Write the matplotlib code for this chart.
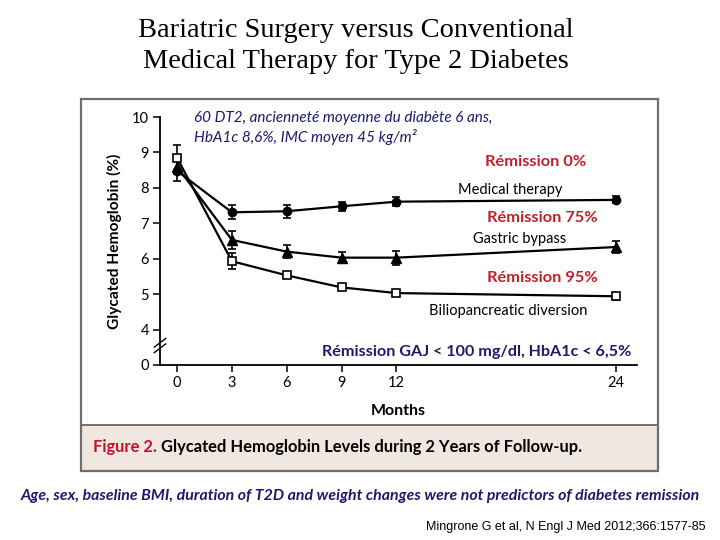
import numpy as np
import matplotlib
matplotlib.use("Agg")
import matplotlib.pyplot as plt
from matplotlib.patches import Rectangle

# ---- data ----
months = [0, 3, 6, 9, 12, 24]
medical = [8.48, 7.31, 7.34, 7.48, 7.61, 7.66]
medical_err = [0.28, 0.20, 0.19, 0.13, 0.13, 0.10]
gastric = [8.60, 6.53, 6.20, 6.03, 6.03, 6.33]
gastric_err = [0.20, 0.25, 0.18, 0.16, 0.20, 0.17]
bpd = [8.85, 5.93, 5.53, 5.19, 5.03, 4.94]
bpd_err = [0.37, 0.23, 0.04, 0.04, 0.04, 0.10]
xticks = [0, 3, 6, 9, 12, 24]
yticks = [0, 4, 5, 6, 7, 8, 9, 10]

NAVY = "#1b1b6b"
RED = "#c0202a"
SANS = ["Lato", "DejaVu Sans"]

fig = plt.figure(figsize=(7.2, 5.4), dpi=100)

def fx(px):
    return px / 720.0

def fy(py):
    return 1 - py / 540.0

# panel frame and caption strip
fig.patches.append(Rectangle((fx(81), fy(471)), fx(658) - fx(81), fy(425) - fy(471),
                             transform=fig.transFigure, facecolor="#efe7e0",
                             edgecolor="none", zorder=0))
fig.patches.append(Rectangle((fx(81), fy(471)), fx(658) - fx(81), fy(99) - fy(471),
                             transform=fig.transFigure, facecolor="none",
                             edgecolor="#6e6e6e", linewidth=1.6, zorder=1))
fig.lines.append(plt.Line2D([fx(81), fx(658)], [fy(425), fy(425)],
                            transform=fig.transFigure, color="#6e6e6e", linewidth=1.4))

ax = fig.add_axes([fx(160), fy(365), fx(637) - fx(160), fy(117) - fy(365)])
ax.set_facecolor("none")


def fwd(y):
    y = np.asarray(y, dtype=float)
    return np.where(y >= 4, y, 3 + y / 4.0)


def inv(t):
    t = np.asarray(t, dtype=float)
    return np.where(t >= 4, t, (t - 3) * 4.0)


ax.set_yscale("function", functions=(fwd, inv))
ax.set_ylim(0, 10)
ax.set_xlim(-0.93, 25.15)

common = dict(color="black", linewidth=1.6, elinewidth=1.2, capsize=3, capthick=1.2)
ax.errorbar(months, medical, yerr=medical_err, marker="o", markersize=6,
            markerfacecolor="black", zorder=4, **common)
ax.errorbar(months, gastric, yerr=gastric_err, marker="^", markersize=6.5,
            markerfacecolor="black", zorder=3, **common)
ax.errorbar(months, bpd, yerr=bpd_err, marker="s", markersize=6,
            markerfacecolor="white", markeredgewidth=1.2, zorder=5, **common)

ax.set_xticks(xticks)
ax.set_yticks(yticks)
ax.set_xticklabels([str(v) for v in xticks], fontfamily=SANS, fontsize=10.5)
ax.set_yticklabels([str(v) for v in yticks], fontfamily=SANS, fontsize=10.5)
ax.yaxis.set_minor_locator(matplotlib.ticker.NullLocator())
ax.tick_params(axis="both", direction="out", length=5, width=1.1, pad=3)
for s in ["top", "right"]:
    ax.spines[s].set_visible(False)
for s in ["left", "bottom"]:
    ax.spines[s].set_linewidth(1.3)

# axis break marks
for dy in (0.0, 0.022):
    ax.plot([-0.012, 0.012], [0.05 + dy, 0.085 + dy], transform=ax.transAxes,
            color="black", linewidth=1.0, clip_on=False)

ax.set_xlabel("Months", fontfamily=SANS, fontsize=11.5, fontweight="bold", labelpad=10)
ax.set_ylabel("Glycated Hemoglobin (%)", fontfamily=SANS, fontsize=11.2,
              fontweight="bold", labelpad=7)

# series labels
fig.text(fx(510), fy(190), "Medical therapy", fontfamily=SANS, fontsize=10.5,
         ha="center", va="center")
fig.text(fx(520), fy(239), "Gastric bypass", fontfamily=SANS, fontsize=10.5,
         ha="center", va="center")
fig.text(fx(508), fy(311), "Biliopancreatic diversion", fontfamily=SANS, fontsize=10.5,
         ha="center", va="center")

fig.text(fx(536), fy(162), "Rémission 0%", fontfamily=SANS, fontsize=11.8,
         fontweight="bold", color=RED, ha="center", va="center")
fig.text(fx(542), fy(218), "Rémission 75%", fontfamily=SANS, fontsize=11.8,
         fontweight="bold", color=RED, ha="center", va="center")
fig.text(fx(542), fy(278), "Rémission 95%", fontfamily=SANS, fontsize=11.8,
         fontweight="bold", color=RED, ha="center", va="center")

fig.text(fx(631), fy(352), "Rémission GAJ < 100 mg/dl, HbA1c < 6,5%", fontfamily=SANS,
         fontsize=11.6, fontweight="bold", color=NAVY, ha="right", va="center")

fig.text(fx(194), fy(118), "60 DT2, ancienneté moyenne du diabète 6 ans,",
         fontfamily=SANS, fontsize=11, fontstyle="italic", color=NAVY,
         ha="left", va="center")
fig.text(fx(194), fy(137), "HbA1c 8,6%, IMC moyen 45 kg/m²",
         fontfamily=SANS, fontsize=11, fontstyle="italic", color=NAVY,
         ha="left", va="center")

# title
fig.text(fx(356), fy(31), "Bariatric Surgery versus Conventional",
         fontfamily=["Liberation Serif", "DejaVu Serif"], fontsize=20.4,
         ha="center", va="center")
fig.text(fx(356), fy(61), "Medical Therapy for Type 2 Diabetes",
         fontfamily=["Liberation Serif", "DejaVu Serif"], fontsize=20.4,
         ha="center", va="center")

# caption
t1 = fig.text(fx(93), fy(447), "Figure 2. ", fontfamily=SANS, fontsize=11.9,
              fontweight="bold", color="#c8102e", ha="left", va="center")
fig.canvas.draw()
bb = t1.get_window_extent()
fig.text(bb.x1 / fig.bbox.width, fy(447),
         "Glycated Hemoglobin Levels during 2 Years of Follow-up.",
         fontfamily=SANS, fontsize=11.9, fontweight="bold", color="black",
         ha="left", va="center")

fig.text(fx(360), fy(496),
         "Age, sex, baseline BMI, duration of T2D and weight changes were not predictors of diabetes remission",
         fontfamily=SANS, fontsize=11.45, fontweight="bold", fontstyle="italic",
         color=NAVY, ha="center", va="center")
fig.text(fx(706), fy(527), "Mingrone G et al, N Engl J Med 2012;366:1577-85",
         fontfamily=["Liberation Sans Narrow", "Liberation Sans", "DejaVu Sans"],
         fontsize=9, color="black", ha="right", va="center")

fig.savefig("out.png", dpi=100)
